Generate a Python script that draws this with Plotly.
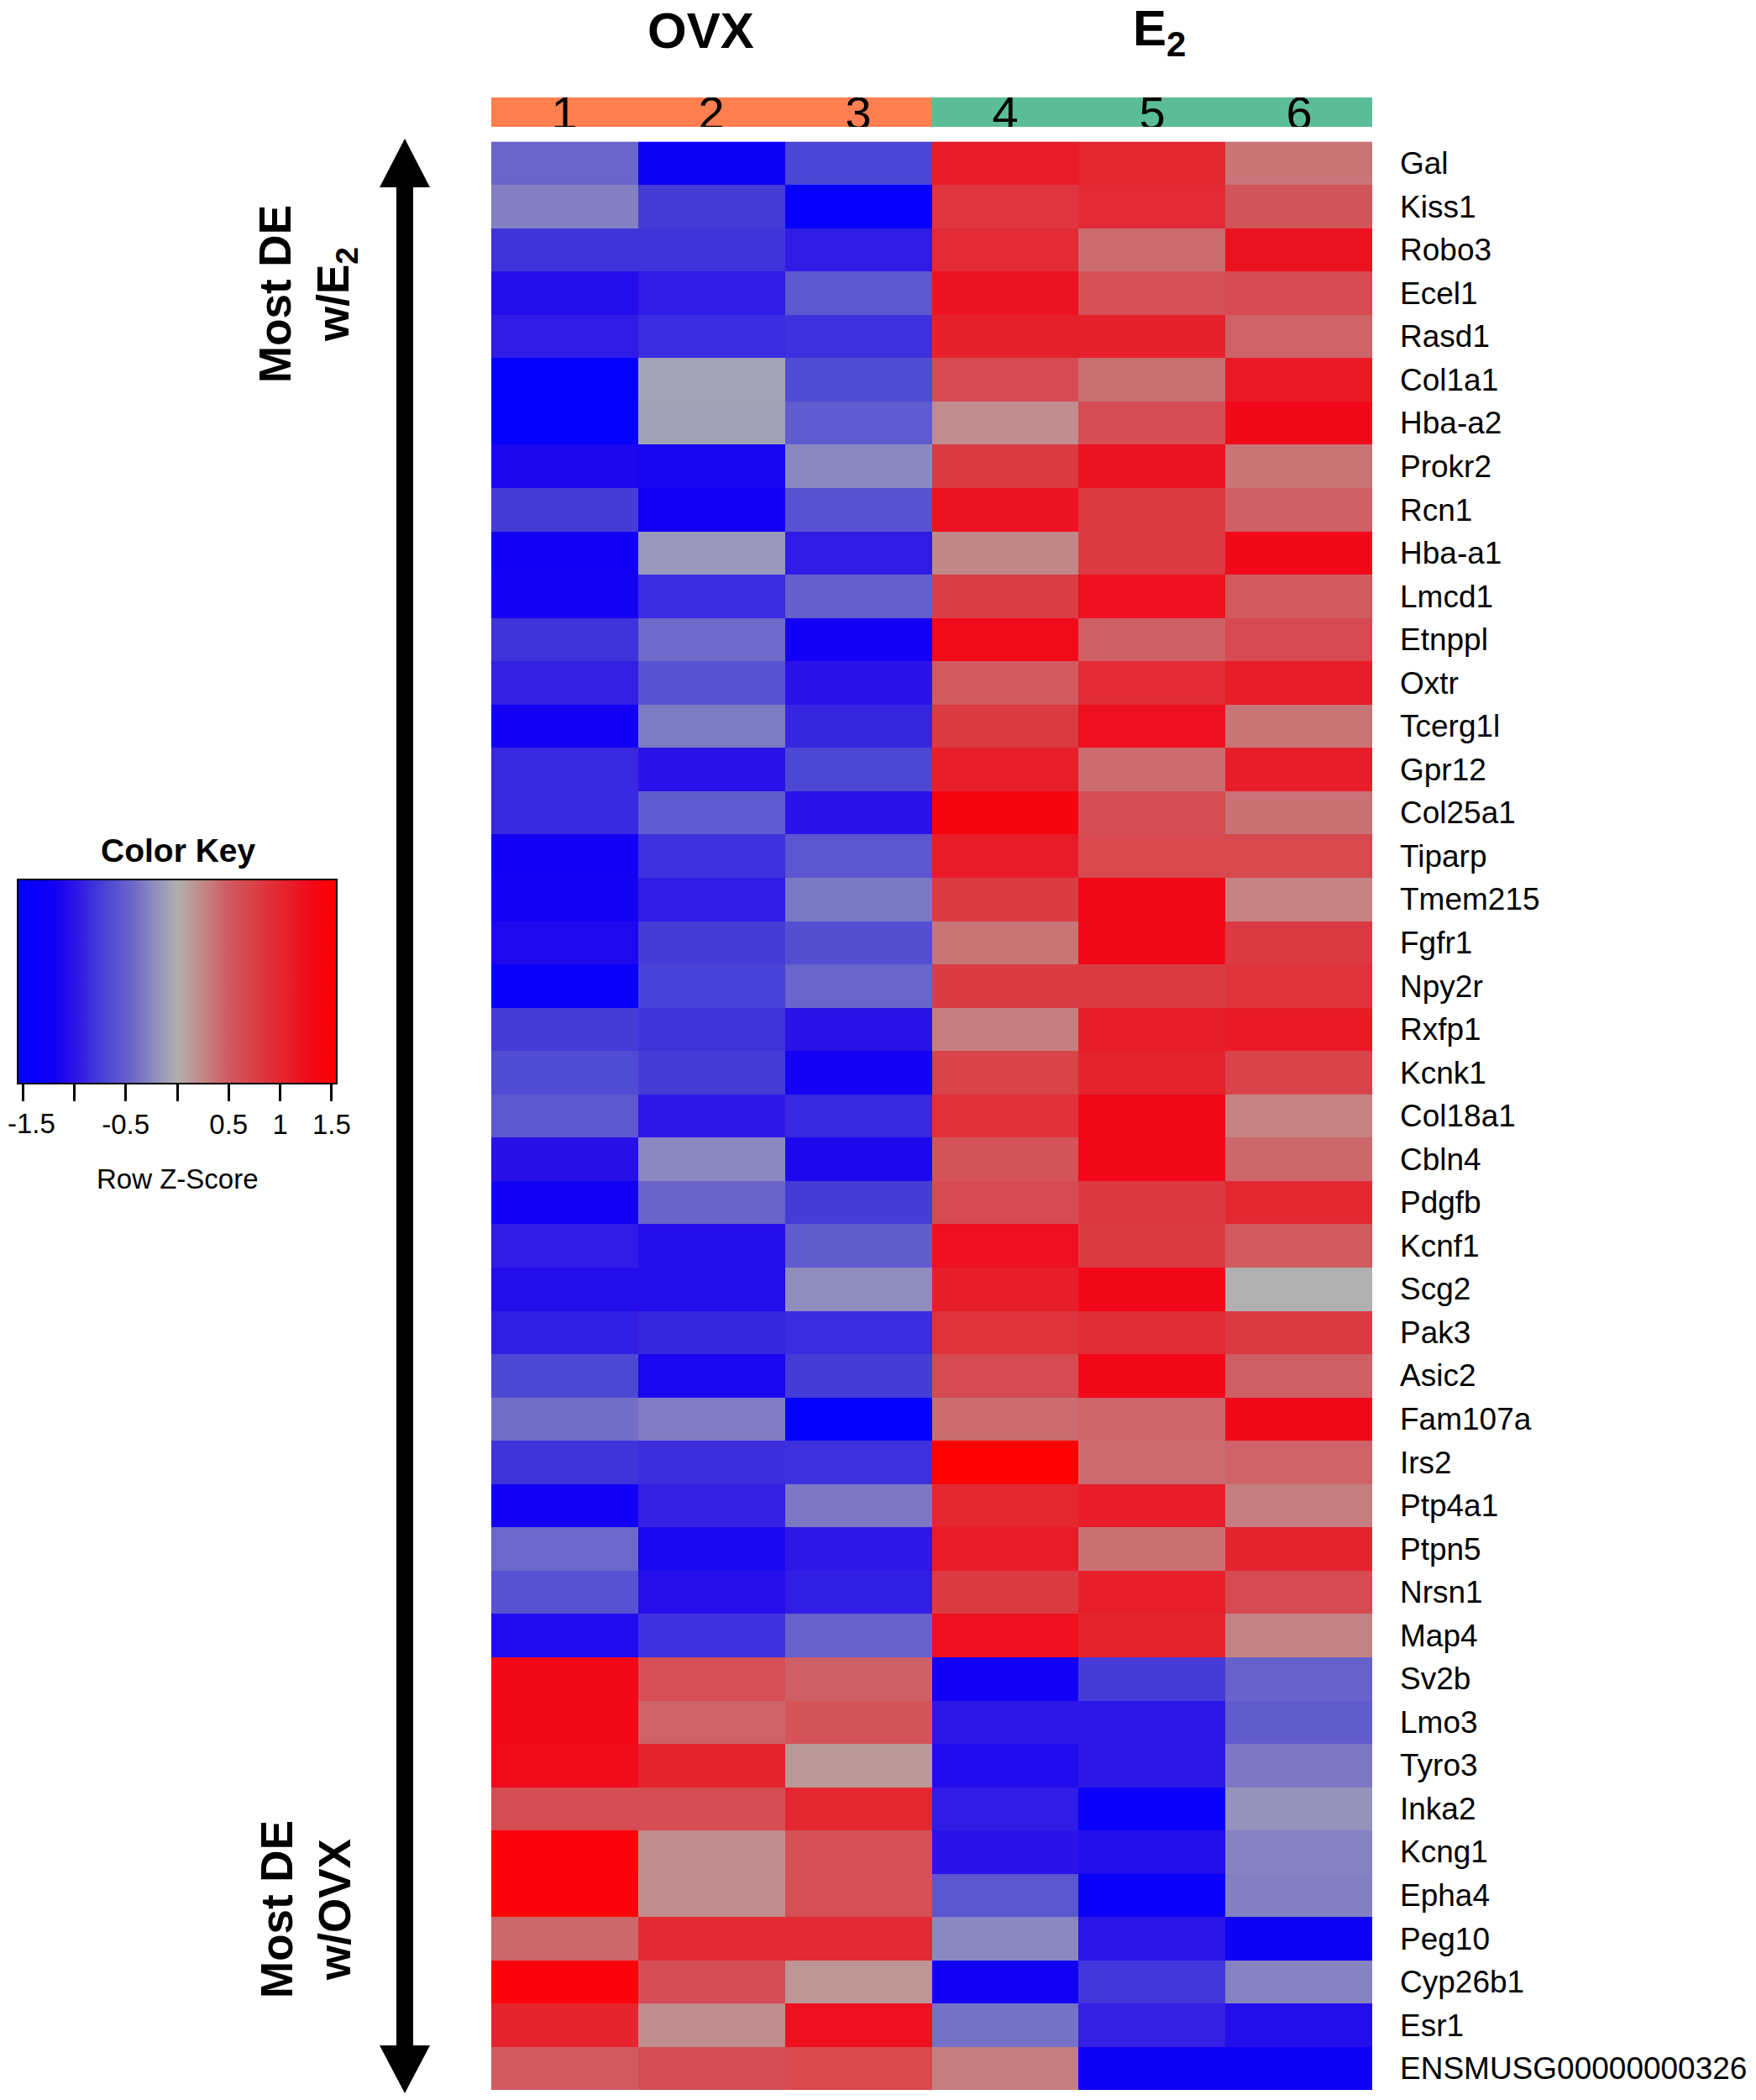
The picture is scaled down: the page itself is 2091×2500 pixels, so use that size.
import plotly.graph_objects as go

# samples / groups across the top
samples = ["1", "2", "3", "4", "5", "6"]
groups = [0, 0, 0, 1, 1, 1]          # 0 = OVX, 1 = E2
group_colors = ["#FF7F50", "#5BBD98"]

genes = [
    "Gal", "Kiss1", "Robo3", "Ecel1", "Rasd1", "Col1a1", "Hba-a2", "Prokr2",
    "Rcn1", "Hba-a1", "Lmcd1", "Etnppl", "Oxtr", "Tcerg1l", "Gpr12", "Col25a1",
    "Tiparp", "Tmem215", "Fgfr1", "Npy2r", "Rxfp1", "Kcnk1", "Col18a1", "Cbln4",
    "Pdgfb", "Kcnf1", "Scg2", "Pak3", "Asic2", "Fam107a", "Irs2", "Ptp4a1",
    "Ptpn5", "Nrsn1", "Map4", "Sv2b", "Lmo3", "Tyro3", "Inka2", "Kcng1",
    "Epha4", "Peg10", "Cyp26b1", "Esr1", "ENSMUSG00000000326",
]

# row z-scores (columns 1..6)
zscores = [
    [-0.45, -1.25, -0.70, 1.10, 1.00, 0.35],
    [-0.30, -0.75, -1.45, 0.85, 0.95, 0.55],
    [-0.80, -0.80, -0.95, 0.95, 0.40, 1.20],
    [-1.05, -0.95, -0.55, 1.20, 0.60, 0.65],
    [-0.95, -0.85, -0.82, 1.05, 1.05, 0.45],
    [-1.50, -0.08, -0.65, 0.65, 0.38, 1.12],
    [-1.50, -0.10, -0.53, 0.22, 0.63, 1.30],
    [-1.12, -1.15, -0.25, 0.80, 1.20, 0.35],
    [-0.75, -1.20, -0.60, 1.20, 0.80, 0.47],
    [-1.20, -0.15, -0.95, 0.25, 0.80, 1.30],
    [-1.18, -0.85, -0.50, 0.75, 1.22, 0.50],
    [-0.80, -0.42, -1.20, 1.27, 0.47, 0.66],
    [-0.92, -0.60, -1.00, 0.50, 0.95, 1.08],
    [-1.20, -0.33, -0.88, 0.80, 1.22, 0.35],
    [-0.87, -1.00, -0.68, 1.07, 0.40, 1.08],
    [-0.87, -0.53, -1.00, 1.40, 0.62, 0.37],
    [-1.20, -0.82, -0.57, 1.10, 0.67, 0.67],
    [-1.18, -0.95, -0.35, 0.78, 1.30, 0.28],
    [-1.10, -0.75, -0.62, 0.35, 1.30, 0.80],
    [-1.35, -0.72, -0.45, 0.78, 0.78, 0.87],
    [-0.75, -0.80, -1.00, 0.30, 1.08, 1.12],
    [-0.65, -0.75, -1.18, 0.72, 1.03, 0.72],
    [-0.55, -0.97, -0.87, 0.90, 1.30, 0.28],
    [-1.02, -0.25, -1.12, 0.57, 1.30, 0.43],
    [-1.22, -0.46, -0.75, 0.65, 0.82, 0.98],
    [-0.95, -1.05, -0.52, 1.22, 0.78, 0.50],
    [-1.05, -1.05, -0.22, 1.08, 1.30, 0.00],
    [-0.93, -0.88, -0.85, 0.87, 0.93, 0.80],
    [-0.68, -1.13, -0.75, 0.65, 1.30, 0.47],
    [-0.40, -0.32, -1.50, 0.40, 0.44, 1.30],
    [-0.80, -0.84, -0.82, 1.50, 0.40, 0.45],
    [-1.20, -0.92, -0.34, 1.00, 1.10, 0.30],
    [-0.44, -1.13, -0.97, 1.10, 0.38, 1.03],
    [-0.60, -1.03, -0.93, 0.80, 1.07, 0.65],
    [-1.08, -0.82, -0.47, 1.22, 1.03, 0.27],
    [1.30, 0.60, 0.47, -1.20, -0.75, -0.47],
    [1.30, 0.45, 0.57, -0.97, -0.97, -0.52],
    [1.28, 1.02, 0.15, -1.08, -0.97, -0.34],
    [0.63, 0.63, 1.00, -0.95, -1.35, -0.18],
    [1.45, 0.22, 0.60, -1.00, -1.05, -0.28],
    [1.45, 0.21, 0.60, -0.57, -1.35, -0.30],
    [0.43, 0.97, 0.97, -0.25, -0.98, -1.25],
    [1.45, 0.62, 0.17, -1.20, -0.78, -0.28],
    [1.02, 0.22, 1.22, -0.38, -0.92, -1.05],
    [0.50, 0.62, 0.67, 0.30, -1.25, -1.25],
]

# colour key (blue - gray - red)
zmin, zmax = -1.55, 1.55
key_z = [-1.55, -1.2, -1.0, -0.7, -0.45, -0.25, 0.0, 0.2, 0.5, 0.8, 1.1, 1.3, 1.55]
key_colors = ["#0000FF", "#1200F4", "#2A12E8", "#4A45D5", "#6A65CA", "#8A88C0",
              "#B0B0B0", "#BF9090", "#D05A60", "#DC3A42", "#E81C28", "#F20818", "#FF0000"]
key_ticks = [-1.5, -1, -0.5, 0, 0.5, 1, 1.5]
# "-1.5" sits on the left page edge, it is written as an annotation below
key_ticktext = ["", "", "-0.5", "", "0.5", "1", "1.5"]

colorscale = [[(z - zmin) / (zmax - zmin), c] for z, c in zip(key_z, key_colors)]

# the page body adds an 8px margin on every side, so the figure is drawn
# 16px smaller and all positions below (measured on the page) are shifted
OFF = 8
W, H = 2091 - 2 * OFF, 2500 - 2 * OFF
FONT = "Liberation Sans"


def px(x):
    return (x - OFF) / W


def py(y):
    return 1 - (y - OFF) / H


fig = go.Figure()

fig.add_trace(go.Heatmap(
    z=zscores, x=samples, y=genes,
    colorscale=colorscale, zmin=zmin, zmax=zmax,
    xaxis="x", yaxis="y",
    colorbar=dict(
        orientation="h",
        x=px(21), xanchor="left",
        y=py(1047), yanchor="top",
        len=380, lenmode="pixels",
        thickness=243, thicknessmode="pixels",
        xpad=0, ypad=0,
        outlinewidth=2, outlinecolor="black",
        ticks="outside", ticklen=20, tickwidth=3, tickcolor="black",
        tickvals=key_ticks, ticktext=key_ticktext,
        ticklabeloverflow="allow",
        tickfont=dict(family=FONT, size=33, color="black"),
    ),
))

# group colour band with sample numbers
fig.add_trace(go.Heatmap(
    z=[groups], x=samples, y=["group"],
    colorscale=[[0, group_colors[0]], [1, group_colors[1]]],
    showscale=False,
    text=[samples], texttemplate="%{text}",
    textfont=dict(family=FONT, size=56, color="black"),
    xaxis="x", yaxis="y2",
))

fig.update_layout(
    width=W, height=H,
    margin=dict(l=0, r=0, t=0, b=0),
    paper_bgcolor="white", plot_bgcolor="white",
    showlegend=False,
    xaxis=dict(domain=[px(585), px(1634)], showticklabels=False, ticks="",
               showgrid=False, zeroline=False, showline=False),
    yaxis=dict(domain=[py(2488), py(168.5)], autorange="reversed", side="right",
               showgrid=False, zeroline=False, showline=False, ticks="",
               ticklabelstandoff=32,
               tickfont=dict(family=FONT, size=37, color="black")),
    yaxis2=dict(domain=[py(151), py(116)], showticklabels=False, ticks="",
                showgrid=False, zeroline=False, showline=False),
)

# double-headed arrow on the left
ax, shaft_w, head_w = 482, 20, 60
fig.add_shape(type="rect", xref="paper", yref="paper",
              x0=px(ax - shaft_w / 2), x1=px(ax + shaft_w / 2),
              y0=py(2436), y1=py(222), fillcolor="black", line_width=0)
fig.add_shape(type="path", xref="paper", yref="paper",
              path=f"M {px(ax)} {py(165)} L {px(ax - head_w / 2)} {py(223)} "
                   f"L {px(ax + head_w / 2)} {py(223)} Z",
              fillcolor="black", line_width=0)
fig.add_shape(type="path", xref="paper", yref="paper",
              path=f"M {px(ax)} {py(2492)} L {px(ax - head_w / 2)} {py(2435)} "
                   f"L {px(ax + head_w / 2)} {py(2435)} Z",
              fillcolor="black", line_width=0)

annotations = [
    dict(text="<b>OVX</b>", x=px(834), y=py(36), font=dict(size=60)),
    dict(text="<b>E<sub>2</sub></b>", x=px(1380), y=py(38), font=dict(size=60)),
    dict(text="<b>Most DE<br>w/E<sub>2</sub></b>", x=px(366), y=py(350),
         textangle=-90, font=dict(size=53)),
    dict(text="<b>Most DE<br>w/OVX</b>", x=px(364), y=py(2273),
         textangle=-90, font=dict(size=53)),
    dict(text="<b>Color Key</b>", x=px(212), y=py(1012), font=dict(size=39)),
    dict(text="Row Z-Score", x=px(211), y=py(1403), font=dict(size=33)),
    dict(text="-1.5", x=px(OFF), y=py(1337), xanchor="left", font=dict(size=33)),
]
for a in annotations:
    a["font"].update(family=FONT, color="black")
    a.setdefault("xanchor", "center")
    fig.add_annotation(xref="paper", yref="paper", showarrow=False,
                       yanchor="middle", borderpad=0, **a)

fig.write_html("out.html")
